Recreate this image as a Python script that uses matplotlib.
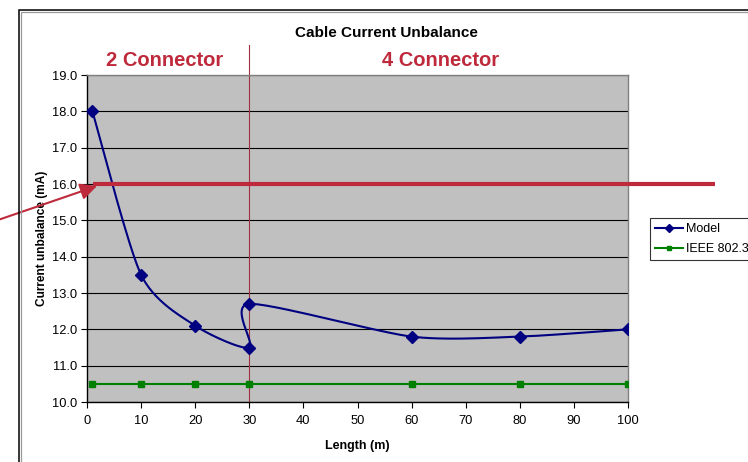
import numpy as np
import matplotlib.pyplot as plt
from matplotlib.patches import Rectangle

plt.rcParams['font.family'] = ['Liberation Sans', 'DejaVu Sans']

# data
model_len = [1, 10, 20, 30, 30, 60, 80, 100]
model_ma = [18.0, 13.5, 12.1, 11.5, 12.7, 11.8, 11.8, 12.0]
ieee_len = [1, 10, 20, 30, 60, 80, 100]
ieee_ma = [10.5, 10.5, 10.5, 10.5, 10.5, 10.5, 10.5]
limit_ma = 16.0
split_len = 30
x_ticks = list(range(0, 101, 10))
y_ticks = [10.0, 11.0, 12.0, 13.0, 14.0, 15.0, 16.0, 17.0, 18.0, 19.0]

red = '#BE2A3C'
navy = '#000080'
green = '#008000'

fig = plt.figure(figsize=(7.48, 4.62), dpi=100)

# chart border (black edge with a grey line just inside)
fig.patches.append(Rectangle((20.5 / 748, -0.1), 1.2, (462 - 11.5) / 462 + 0.1,
                             transform=fig.transFigure, fill=False,
                             edgecolor='#9a9a9a', lw=0.9, zorder=0))
fig.patches.append(Rectangle((19.2 / 748, -0.1), 1.2, (462 - 10.2) / 462 + 0.1,
                             transform=fig.transFigure, fill=False,
                             edgecolor='black', lw=1.1, zorder=0))

ax = fig.add_axes([87 / 748, 1 - 402 / 462, 541 / 748, 327 / 462])
ax.set_facecolor('#C0C0C0')
ax.set_xlim(0, 100)
ax.set_ylim(10, 19)
ax.set_xticks(x_ticks)
ax.set_yticks(y_ticks)
ax.set_yticklabels(['%.1f' % v for v in y_ticks])
ax.tick_params(axis='both', labelsize=9.3, direction='out', length=4, width=0.8,
               color='black')
ax.tick_params(axis='x', pad=5)
ax.tick_params(axis='y', pad=3)
ax.grid(axis='y', color='black', lw=0.8)
ax.set_axisbelow(True)
for s in ['top', 'right']:
    ax.spines[s].set_color('#808080')
    ax.spines[s].set_linewidth(1.0)
for s in ['left', 'bottom']:
    ax.spines[s].set_color('black')
    ax.spines[s].set_linewidth(1.0)

ax.set_xlabel('Length (m)', fontsize=9, fontweight='bold', labelpad=10)
ax.set_ylabel('Current unbalance (mA)', fontsize=8.6, fontweight='bold', labelpad=3)


# Excel-style smoothed line, computed in display space
def smooth(xs, ys, n=30, k=8.0):
    pts = ax.transData.transform(np.column_stack([xs, ys]))
    out = []
    for i in range(len(pts) - 1):
        p0 = pts[max(i - 1, 0)]
        p1 = pts[i]
        p2 = pts[i + 1]
        p3 = pts[min(i + 2, len(pts) - 1)]
        c1 = p1 + (p2 - p0) / k
        c2 = p2 - (p3 - p1) / k
        t = np.linspace(0, 1, n)[:, None]
        seg = ((1 - t) ** 3) * p1 + 3 * ((1 - t) ** 2) * t * c1 + 3 * (1 - t) * t ** 2 * c2 + t ** 3 * p2
        out.append(seg)
    out = np.vstack(out)
    d = ax.transData.inverted().transform(out)
    return d[:, 0], d[:, 1]


sx, sy = smooth(model_len, model_ma)
ax.plot(sx, sy, color=navy, lw=1.5, zorder=3)
ax.plot(model_len, model_ma, ls='none', marker='D', ms=6.5, color=navy, zorder=4)
ax.plot(ieee_len, ieee_ma, color=green, lw=1.5, marker='s', ms=5, zorder=3)

# legend handles
h1, = ax.plot([], [], color=navy, lw=1.5, marker='D', ms=4, label='Model')
h2, = ax.plot([], [], color=green, lw=1.5, marker='s', ms=3.5, label='IEEE 802.3')
leg = fig.legend(handles=[h1, h2], loc='upper left',
                 bbox_to_anchor=(650 / 748, 1 - 218 / 462), fontsize=9,
                 frameon=True, fancybox=False, edgecolor='black',
                 handlelength=2.2, handletextpad=0.25, borderpad=0.4,
                 labelspacing=0.65, borderaxespad=0)
leg.get_frame().set_linewidth(0.8)

# connector split and limit line
ax.plot([split_len, split_len], [10, 19.83], color='#A03040', lw=0.8,
        clip_on=False, zorder=2)
ax.plot([1.1, 116], [limit_ma, limit_ma], color=red, lw=3, clip_on=False,
        zorder=5, solid_capstyle='butt')

ax.text(14.4, 19.41, '2 Connector', color=red, fontsize=14.5, fontweight='bold',
        ha='center', va='center')
ax.text(65.4, 19.41, '4 Connector', color=red, fontsize=14.5, fontweight='bold',
        ha='center', va='center')

fig.text(386 / 748, 1 - 33 / 462, 'Cable Current Unbalance', fontsize=11,
         fontweight='bold', ha='center', va='center')

ax.annotate('', xy=(97, 462 - 186), xycoords='figure pixels',
            xytext=(-2, 462 - 220), textcoords='figure pixels',
            arrowprops=dict(arrowstyle='-|>,head_length=1.0,head_width=0.5',
                            color=red, lw=1.5, shrinkA=0, shrinkB=0),
            annotation_clip=False)

fig.savefig('out.png', dpi=100)
